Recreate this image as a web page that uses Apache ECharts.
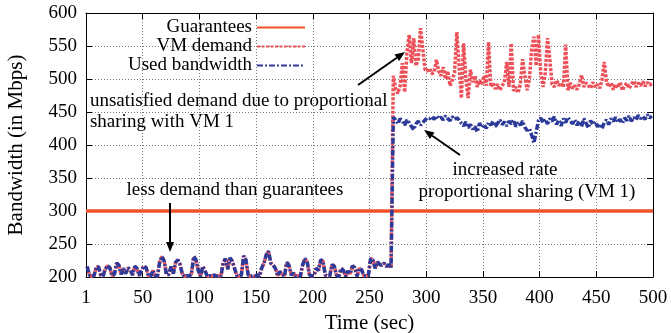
<!DOCTYPE html>
<html><head><meta charset="utf-8">
<script src="https://cdn.jsdelivr.net/npm/echarts@6/dist/echarts.min.js"></script>
<style>html,body{margin:0;padding:0;background:#fff}#c{width:671px;height:333px}</style>
</head><body><div id="c"></div>
<script>
// ---- data ----
const sampleStart = 1;      // first sample time (sec)
const sampleStep = 2;       // seconds between samples
const guaranteeValue = 300; // Mbps
const xTickLabels = ['1','50','100','150','200','250','300','350','400','450','500'];
const yTickLabels = ['200','250','300','350','400','450','500','550','600'];

// VM demand, t = 1..269 (below guarantee, fully satisfied)
const demandLow = [
 216,203,201,202,214,216,203,201,212,217,
 214,202,204,221,218,204,213,205,214,211,
 203,216,213,202,210,217,214,202,201,210,
 202,201,223,231,224,203,204,216,205,222,
 226,219,204,201,202,201,205,231,226,210,
 201,216,209,201,202,201,203,201,202,201,
 222,228,212,229,224,213,202,201,203,232,
 226,203,201,202,201,203,201,214,221,234,
 239,221,218,213,202,208,204,201,222,218,
 203,206,201,202,201,218,228,223,204,201,
 202,213,210,226,224,203,201,202,219,216,
 202,201,213,210,201,209,205,217,214,201,
 213,211,202,201,203,228,226,213,223,219,
 218,221,216,219,214
];
// VM demand, t = 271..499
const demandHigh = [
 505,485,478,490,524,480,540,567,524,562,
 520,530,577,545,514,512,516,508,510,529,
 512,505,518,500,512,490,498,510,571,520,
 471,554,500,471,514,495,505,488,498,492,
 505,490,556,488,494,485,492,483,490,495,
 526,488,554,482,488,479,492,530,505,483,
 500,545,564,520,567,510,488,509,562,530,
 492,488,498,490,494,488,552,483,494,486,
 490,484,492,506,488,494,490,486,495,488,
 492,486,498,526,495,488,494,484,492,487,
 495,483,490,494,486,492,497,488,494,490,
 496,489,495,491,493
];
// Used bandwidth, t = 1..269 (equals demand)
const usedLow = demandLow.slice();
// Used bandwidth, t = 271..499 (proportional sharing with VM 1)
const usedHigh = [
 442,438,432,440,436,430,438,434,428,423,
 432,436,430,434,438,441,440,443,439,444,
 440,442,438,444,440,437,443,439,441,438,
 433,429,435,426,431,424,428,420,433,427,
 431,425,434,430,436,428,433,438,431,435,
 429,436,432,438,428,434,430,436,427,422,
 425,415,403,420,437,441,434,439,432,440,
 436,443,431,438,429,440,434,442,437,432,
 438,430,436,428,440,433,426,437,431,435,
 428,432,425,434,438,431,440,436,442,434,
 439,433,441,437,444,436,442,438,445,440,
 443,439,446,441,444
];

const demand = demandLow.concat(demandHigh);
const used = usedLow.concat(usedHigh);
const toPairs = arr => arr.map((v, i) => [sampleStart + sampleStep * i, v]);

// annotations in data coordinates
const notes = [
  {text:'unsatisfied demand due to proportional', x:3.5, y:466.7, align:'left'},
  {text:'sharing with VM 1', x:3.5, y:434.8, align:'left'},
  {text:'less demand than guarantees', x:131.4, y:331.8, align:'center'},
  {text:'increased rate', x:369.5, y:362, align:'center'},
  {text:'proportional sharing (VM 1)', x:388.9, y:328.8, align:'center'}
];
const arrows = [
  {from:[239.9,490.9], to:[281.3,540.9]},
  {from:[74.1,312.1], to:[74.1,237.9]},
  {from:[329.8,384.8], to:[298.1,422.7]}
];

const FONT = 'Liberation Serif';
const chart = echarts.init(document.getElementById('c'), null, {renderer:'canvas'});
const gridLine = {show:true, lineStyle:{color:'#777', type:[1,2], width:1}};
const tickIn = {show:true, inside:true, length:6, lineStyle:{color:'#000', width:1}};
const option = {
  animation:false,
  backgroundColor:'#fff',
  grid:{left:86, right:18, top:13, bottom:56, containLabel:false, outerBoundsMode:'none'},
  legend:{
    orient:'vertical', left:97, top:13, align:'right',
    itemWidth:48, itemHeight:2, itemGap:0,
    itemStyle:{opacity:0},
    textStyle:{fontFamily:FONT, fontSize:19, color:'#000', width:150, align:'right', lineHeight:18},
    data:['Guarantees','VM demand','Used bandwidth']
  },
  xAxis:[{
    type:'value', min:0, max:500, interval:50,
    name:'Time (sec)', nameLocation:'middle', nameGap:35,
    nameTextStyle:{fontFamily:FONT, fontSize:21, color:'#000'},
    axisLine:{show:true, onZero:false, lineStyle:{color:'#000', width:1}},
    axisTick:tickIn,
    axisLabel:{fontFamily:FONT, fontSize:19, color:'#000', margin:12,
      formatter:v => xTickLabels[Math.round(v/50)]},
    splitLine:gridLine
  },{
    type:'value', min:0, max:500, interval:50, position:'top',
    axisLine:{show:true, onZero:false, lineStyle:{color:'#000', width:1}},
    axisTick:tickIn, axisLabel:{show:false}, splitLine:{show:false}
  }],
  yAxis:[{
    type:'value', min:200, max:600, interval:50,
    name:'Bandwidth (in Mbps)', nameLocation:'middle', nameGap:59,
    nameTextStyle:{fontFamily:FONT, fontSize:21, color:'#000'},
    axisLine:{show:true, onZero:false, lineStyle:{color:'#000', width:1}},
    axisTick:tickIn,
    axisLabel:{fontFamily:FONT, fontSize:19, color:'#000', margin:9,
      formatter:v => yTickLabels[Math.round((v-200)/50)]},
    splitLine:gridLine
  },{
    type:'value', min:200, max:600, interval:50, position:'right',
    axisLine:{show:true, onZero:false, lineStyle:{color:'#000', width:1}},
    axisTick:tickIn, axisLabel:{show:false}, splitLine:{show:false}
  }],
  series:[
    {name:'Guarantees', type:'line', showSymbol:false, symbol:'none',
     data:[[0,guaranteeValue],[500,guaranteeValue]],
     lineStyle:{color:'#f2522a', width:3.5}, itemStyle:{color:'#f2522a'}},
    {name:'VM demand', type:'line', showSymbol:false, symbol:'none',
     data:toPairs(demand),
     lineStyle:{color:'#ec5058', width:3.5, type:[3,1.5]}, itemStyle:{color:'#ec5058'}},
    {name:'Used bandwidth', type:'line', showSymbol:false, symbol:'none',
     data:toPairs(used),
     lineStyle:{color:'#2c3a99', width:3.5, type:[6,2,2,2]}, itemStyle:{color:'#2c3a99'}}
  ]
};
chart.setOption(option);

// annotations
const g = [];
notes.forEach(n => {
  const p = chart.convertToPixel({gridIndex:0}, [n.x, n.y]);
  g.push({type:'text', x:p[0], y:p[1], z:100,
    style:{text:n.text, fontFamily:FONT, fontSize:19, fill:'#000', align:n.align, verticalAlign:'middle'}});
});
arrows.forEach(a => {
  const p0 = chart.convertToPixel({gridIndex:0}, a.from);
  const p1 = chart.convertToPixel({gridIndex:0}, a.to);
  const dx = p1[0]-p0[0], dy = p1[1]-p0[1];
  const L = Math.sqrt(dx*dx+dy*dy), ux = dx/L, uy = dy/L;
  const hl = 10, hw = 4;
  const bx = p1[0]-ux*hl, by = p1[1]-uy*hl;
  g.push({type:'line', z:100, shape:{x1:p0[0], y1:p0[1], x2:bx, y2:by},
    style:{stroke:'#000', lineWidth:2}});
  g.push({type:'polygon', z:100, shape:{points:[[p1[0],p1[1]],[bx-uy*hw,by+ux*hw],[bx+uy*hw,by-ux*hw]]},
    style:{fill:'#000'}});
});
chart.setOption({graphic:g});
</script>
</body></html>
